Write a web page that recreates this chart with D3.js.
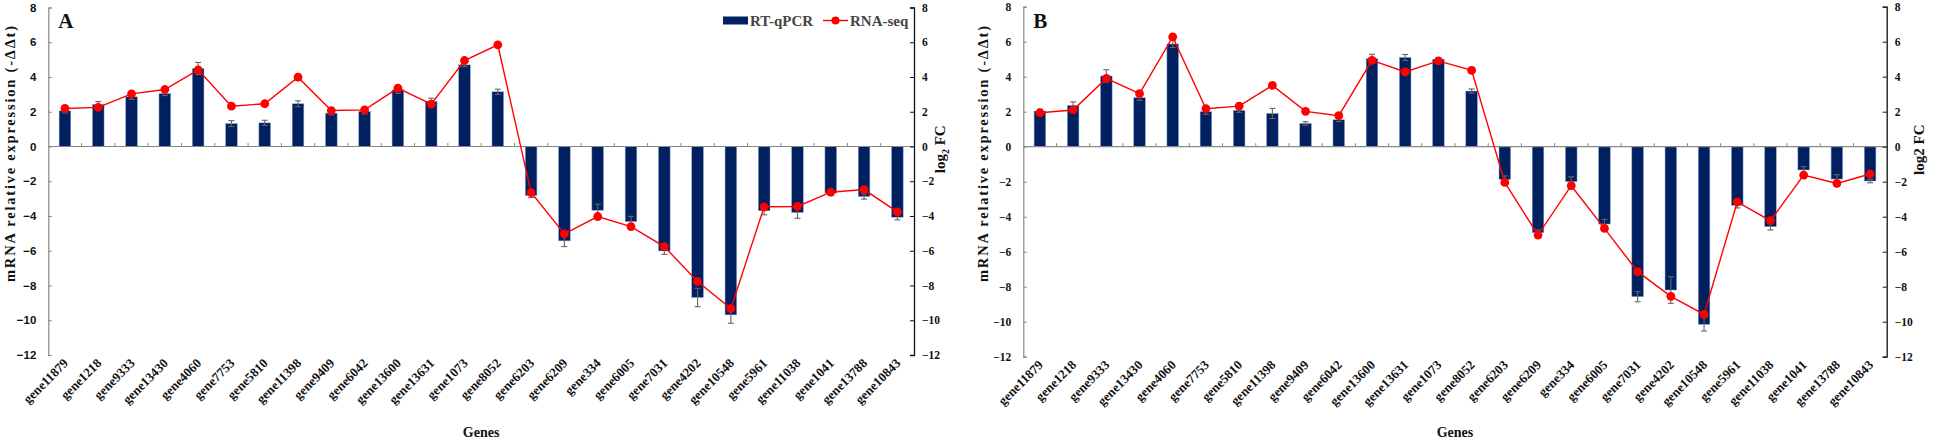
<!DOCTYPE html>
<html><head><meta charset="utf-8">
<script src="https://cdn.jsdelivr.net/npm/d3@7"></script>
<style>
html,body{margin:0;padding:0;background:#fff;}
svg{display:block;}
</style></head>
<body>
<svg id="chart" width="1933" height="440"></svg>
<script>
const genes = ["gene11879","gene1218","gene9333","gene13430","gene4060","gene7753","gene5810","gene11398","gene9409","gene6042","gene13600","gene13631","gene1073","gene8052","gene6203","gene6209","gene334","gene6005","gene7031","gene4202","gene10548","gene5961","gene11038","gene1041","gene13788","gene10843"];

const qpcrA = [2.05,2.42,2.86,3.05,4.49,1.32,1.36,2.46,1.92,2.02,3.26,2.59,4.70,3.15,-2.82,-5.43,-3.67,-4.32,-6.01,-8.69,-9.69,-3.70,-3.80,-2.68,-2.88,-4.07];
const errA  = [0.12,0.17,0.15,0.12,0.35,0.17,0.15,0.17,0.10,0.15,0.20,0.19,0.10,0.15,0.12,0.33,0.35,0.30,0.20,0.53,0.48,0.23,0.33,0.15,0.15,0.15];
const seqA  = [2.19,2.25,3.03,3.28,4.41,2.32,2.46,3.99,2.07,2.11,3.36,2.44,4.95,5.85,-2.65,-5.03,-4.03,-4.61,-5.76,-7.77,-9.33,-3.47,-3.45,-2.63,-2.48,-3.76];

const qpcrB = [2.04,2.36,4.04,2.80,5.87,2.00,2.08,1.90,1.33,1.54,5.03,5.10,5.00,3.18,-1.87,-4.91,-2.00,-4.42,-8.57,-8.19,-10.15,-3.35,-4.57,-1.33,-1.85,-1.96];
const errB  = [0.10,0.20,0.36,0.15,0.20,0.15,0.12,0.29,0.10,0.10,0.25,0.17,0.05,0.12,0.20,0.15,0.28,0.27,0.29,0.76,0.38,0.15,0.19,0.19,0.25,0.10];
const seqB  = [1.94,2.10,3.90,3.03,6.27,2.17,2.32,3.50,2.02,1.77,4.93,4.27,4.90,4.36,-2.04,-5.05,-2.23,-4.67,-7.14,-8.55,-9.58,-3.16,-4.23,-1.62,-2.10,-1.56];

const yTicks = [8,6,4,2,0,-2,-4,-6,-8,-10,-12];
const yDomain = [-12, 8];

const SERIF = "'Liberation Serif','Times New Roman',serif";
const SANS = "'Liberation Sans',Arial,sans-serif";

const svg = d3.select("#chart");

function panel(opt){
  const {x0,x1,yT,yB,qpcr,err,seq,letter,leftFont,rightTitle,legend,yTitleX,rTitleX} = opt;
  const g = svg.append("g");
  const x = d3.scaleBand().domain(genes).range([x0,x1]).paddingInner(0).paddingOuter(0);
  const y = d3.scaleLinear().domain(yDomain).range([yB,yT]);
  const bw = x.bandwidth()*0.35;

  // bars
  g.selectAll("rect.bar").data(genes).join("rect")
    .attr("class","bar")
    .attr("x",d=>x(d)+x.bandwidth()/2-bw/2)
    .attr("width",bw)
    .attr("y",(d,i)=>Math.min(y(qpcr[i]),y(0)))
    .attr("height",(d,i)=>Math.abs(y(qpcr[i])-y(0)))
    .attr("fill","#002060")
    .attr("stroke","#8ea6d0").attr("stroke-width",0.5);

  // x axis at zero
  const xAxis = g.append("g").attr("transform",`translate(0,${y(0)})`);
  xAxis.append("line").attr("x1",x0).attr("x2",x1).attr("stroke","#888").attr("stroke-width",1.2);
  xAxis.selectAll("line.tk").data(genes.slice(1)).join("line").attr("class","tk")
    .attr("x1",d=>x(d)).attr("x2",d=>x(d)).attr("y1",0).attr("y2",-3.5)
    .attr("stroke","#888").attr("stroke-width",1);

  // error bars
  const eg = g.append("g").attr("stroke","#666").attr("stroke-width",1.1);
  genes.forEach((d,i)=>{
    const cx = x(d)+x.bandwidth()/2;
    const a = y(qpcr[i]+err[i]), b = y(qpcr[i]-err[i]);
    eg.append("line").attr("x1",cx).attr("x2",cx).attr("y1",a).attr("y2",b);
    eg.append("line").attr("x1",cx-3).attr("x2",cx+3).attr("y1",a).attr("y2",a);
    eg.append("line").attr("x1",cx-3).attr("x2",cx+3).attr("y1",b).attr("y2",b);
  });

  // line series
  const line = d3.line().x((d,i)=>x(genes[i])+x.bandwidth()/2).y(d=>y(d));
  g.append("path").datum(seq).attr("d",line).attr("fill","none").attr("stroke","#ff0000").attr("stroke-width",1.4);
  g.selectAll("circle.pt").data(seq).join("circle").attr("class","pt")
    .attr("cx",(d,i)=>x(genes[i])+x.bandwidth()/2).attr("cy",d=>y(d)).attr("r",4.4).attr("fill","#ff0000");

  // left axis
  const la = g.append("g").attr("transform",`translate(${x0},0)`)
    .call(d3.axisLeft(y).tickValues(yTicks).tickSize(-3.5).tickPadding(12).tickFormat(d3.format("d")));
  la.select(".domain").attr("stroke","#888").attr("stroke-width",1.2);
  la.selectAll(".tick line").attr("stroke","#888");
  la.selectAll("text").attr("font-family",leftFont).attr("font-weight","bold").attr("font-size",11.5).attr("fill","#111");

  // right axis
  const ra = g.append("g").attr("transform",`translate(${x1},0)`)
    .call(d3.axisRight(y).tickValues(yTicks).tickSize(-4).tickPadding(8).tickFormat(d3.format("d")));
  ra.select(".domain").attr("stroke","#111").attr("stroke-width",1.3);
  ra.selectAll(".tick line").attr("stroke","#111");
  ra.selectAll("text").attr("font-family",SERIF).attr("font-weight","bold").attr("font-size",11.5).attr("fill","#111");

  // category labels
  g.selectAll("text.gl").data(genes).join("text").attr("class","gl")
    .attr("transform",d=>`translate(${x(d)+x.bandwidth()/2+4},${yB+9}) rotate(-45)`)
    .attr("text-anchor","end")
    .attr("font-family",SERIF).attr("font-weight","bold").attr("font-size",13).attr("fill","#111")
    .text(d=>d);

  // titles
  g.append("text").attr("x",(x0+x1)/2).attr("y",437).attr("text-anchor","middle")
    .attr("font-family",SERIF).attr("font-weight","bold").attr("font-size",14).attr("fill","#111").text("Genes");
  g.append("text").attr("transform",`translate(${yTitleX},154) rotate(-90)`).attr("text-anchor","middle")
    .attr("font-family",SERIF).attr("font-weight","bold").attr("font-size",14.5).attr("fill","#111")
    .attr("textLength",256).attr("lengthAdjust","spacing")
    .text("mRNA relative expression (-ΔΔt)");
  const rt = g.append("text").attr("transform",`translate(${rTitleX},${(yT+yB)/2-32}) rotate(-90)`).attr("text-anchor","middle")
    .attr("font-family",SERIF).attr("font-weight","bold").attr("font-size",15).attr("fill","#111");
  if(rightTitle==="sub"){
    rt.append("tspan").text("log");
    rt.append("tspan").attr("font-size",10).attr("dy",4).text("2");
    rt.append("tspan").attr("dy",-4).text(" FC");
  } else {
    rt.text("log2 FC");
  }
  // panel letter
  g.append("text").attr("x",x0+10).attr("y",28).attr("font-family",SERIF).attr("font-weight","bold")
    .attr("font-size",21).attr("fill","#111").text(letter);

  if(legend){
    const lg = g.append("g");
    lg.append("rect").attr("x",723).attr("y",16.5).attr("width",25).attr("height",8).attr("fill","#002060");
    lg.append("text").attr("x",750).attr("y",25.5).attr("font-family",SERIF).attr("font-weight","bold")
      .attr("font-size",15).attr("fill","#444").text("RT-qPCR");
    lg.append("line").attr("x1",823).attr("x2",848).attr("y1",20.5).attr("y2",20.5).attr("stroke","#ff0000").attr("stroke-width",1.4);
    lg.append("circle").attr("cx",835.5).attr("cy",20.5).attr("r",4).attr("fill","#ff0000");
    lg.append("text").attr("x",850).attr("y",25.5).attr("font-family",SERIF).attr("font-weight","bold")
      .attr("font-size",15).attr("fill","#444").text("RNA-seq");
  }
}

panel({x0:48.3,x1:914,yT:7.5,yB:355,qpcr:qpcrA,err:errA,seq:seqA,letter:"A",leftFont:SANS,rightTitle:"sub",legend:true,yTitleX:15,rTitleX:945});
panel({x0:1023.3,x1:1886.7,yT:6.7,yB:356.7,qpcr:qpcrB,err:errB,seq:seqB,letter:"B",leftFont:SERIF,rightTitle:"plain",legend:false,yTitleX:988,rTitleX:1924});
</script>
</body></html>
